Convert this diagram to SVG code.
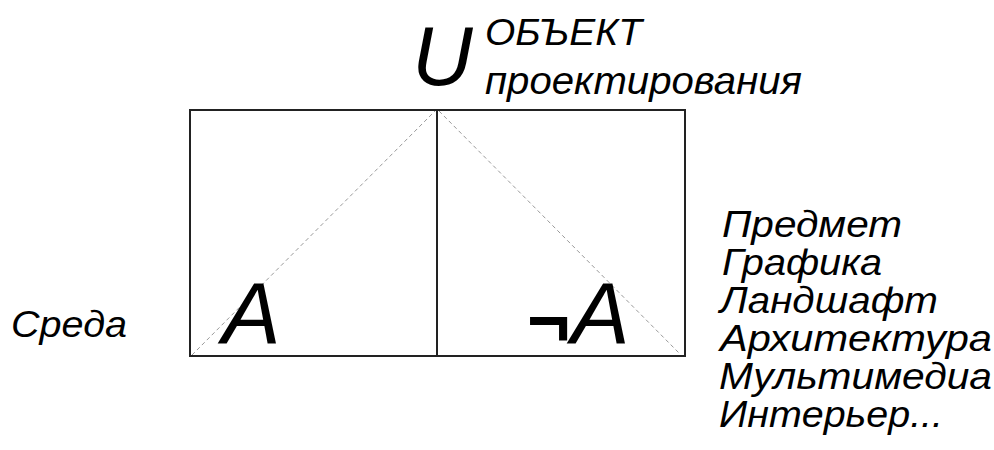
<svg xmlns="http://www.w3.org/2000/svg" width="994" height="450" viewBox="0 0 994 450">
<style>
.t{font-family:"Liberation Sans",Arial,sans-serif;font-style:italic;fill:#000}
.s{font-size:36px}
.frame{fill:none;stroke:#222;stroke-width:2}
.dash{fill:none;stroke:#999;stroke-width:1;stroke-dasharray:4 3}
</style>
<rect width="994" height="450" fill="#fff"/>
<g id="frame">
<rect class="frame" x="190" y="110" width="495" height="246"/>
<line class="frame" x1="437" y1="110" x2="437" y2="356" stroke-width="2.5"/>
</g>
<g id="connectors">
<line class="dash" x1="192" y1="355" x2="435" y2="111"/>
<line class="dash" x1="439" y1="111" x2="680" y2="354"/>
</g>
<g id="U"><text class="t" x="412" y="85" font-size="84">U</text></g>
<g id="object"><text class="t s" x="485" y="45" textLength="157" lengthAdjust="spacingAndGlyphs">ОБЪЕКТ</text>
<text class="t" x="485" y="94" font-size="38" textLength="317" lengthAdjust="spacingAndGlyphs">проектирования</text></g>
<g id="A"><text class="t" x="222" y="344" font-size="88">A</text></g>
<g id="notA"><text x="527" y="346" font-family="Liberation Sans, Arial, sans-serif" font-weight="bold" font-size="74">¬</text><text class="t" x="571" y="344" font-size="88">A</text></g>
<g id="sreda"><text class="t s" x="11" y="337" textLength="116" lengthAdjust="spacingAndGlyphs">Среда</text></g>
<g id="list">
<text class="t s" x="722" y="237" textLength="180" lengthAdjust="spacingAndGlyphs">Предмет</text>
<text class="t s" x="722" y="275" textLength="160" lengthAdjust="spacingAndGlyphs">Графика</text>
<text class="t s" x="720" y="313" textLength="218" lengthAdjust="spacingAndGlyphs">Ландшафт</text>
<text class="t s" x="720" y="351" textLength="272" lengthAdjust="spacingAndGlyphs">Архитектура</text>
<text class="t s" x="719" y="389" textLength="273" lengthAdjust="spacingAndGlyphs">Мультимедиа</text>
<text class="t s" x="719" y="427" textLength="224" lengthAdjust="spacingAndGlyphs">Интерьер...</text>
</g>
</svg>
